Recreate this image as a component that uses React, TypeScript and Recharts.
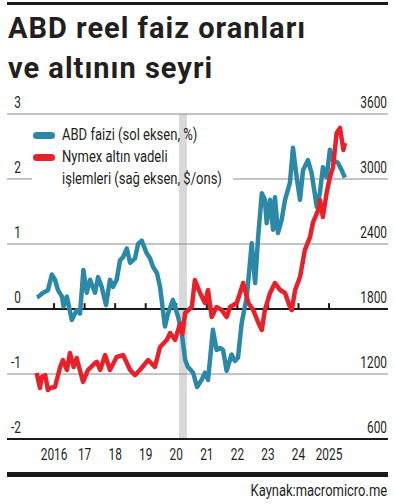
import React from "react";
import {
  ComposedChart,
  Line,
  XAxis,
  YAxis,
  ReferenceLine,
  ReferenceArea,
  Legend,
} from "recharts";

// ABD 10 yıllık reel faiz (sol eksen, %)
const rateDates = [
  2015.44, 2015.49, 2015.64, 2015.8, 2015.93, 2016.03, 2016.13, 2016.26, 2016.31, 2016.42,
  2016.58, 2016.74, 2016.85, 2016.96, 2017.07, 2017.18, 2017.34, 2017.44, 2017.56, 2017.7,
  2017.83, 2017.93, 2018.05, 2018.16, 2018.26, 2018.38, 2018.49, 2018.65, 2018.75, 2018.87,
  2019.03, 2019.14, 2019.24, 2019.37, 2019.47, 2019.63, 2019.73, 2019.89, 2020.06, 2020.18,
  2020.29, 2020.38, 2020.55, 2020.68, 2020.83, 2020.94, 2021.04, 2021.2, 2021.32, 2021.43,
  2021.53, 2021.65, 2021.81, 2021.92, 2022.02, 2022.14, 2022.31, 2022.47, 2022.58, 2022.68,
  2022.8, 2022.9, 2022.96, 2023.07, 2023.17, 2023.23, 2023.33, 2023.45, 2023.56, 2023.72,
  2023.82, 2023.94, 2024.05, 2024.15, 2024.31, 2024.43, 2024.6, 2024.7, 2024.8, 2024.92,
  2025.03, 2025.13, 2025.29, 2025.41, 2025.52,
];
const rateValues = [
  0.18, 0.19, 0.25, 0.29, 0.53, 0.45, 0.29, 0.19, 0.04, 0.19,
  -0.17, -0.02, -0.07, 0.6, 0.25, 0.45, 0.25, 0.49, 0.34, 0.06,
  0.45, 0.34, 0.45, 0.75, 0.8, 0.93, 0.71, 0.78, 1.0, 1.05,
  0.86, 0.78, 0.65, 0.55, 0.34, -0.27, -0.07, 0.14, -0.12, -0.37,
  -0.78, -0.89, -0.98, -1.2, -1.09, -0.98, -1.09, -0.32, -0.63, -0.6,
  -0.63, -0.95, -0.7, -0.8, -0.75, -0.22, 0.19, 1.01, 0.4, 1.11,
  1.78, 1.68, 1.32, 1.68, 1.22, 1.72, 1.17, 1.37, 1.68, 1.94,
  2.48, 2.03, 1.68, 2.14, 2.29, 2.09, 1.57, 1.78, 2.18, 2.03,
  2.45, 2.29, 2.25, 2.14, 2.02,
];

// Nymex altın vadeli işlemleri (sağ eksen, $/ons)
const goldDates = [
  2015.43, 2015.54, 2015.6, 2015.71, 2015.8, 2015.87, 2016.03, 2016.2, 2016.29, 2016.42,
  2016.52, 2016.64, 2016.74, 2016.95, 2017.11, 2017.34, 2017.4, 2017.51, 2017.67, 2017.83,
  2018.05, 2018.26, 2018.49, 2018.65, 2018.81, 2019.08, 2019.3, 2019.47, 2019.69, 2019.8,
  2019.96, 2020.12, 2020.2, 2020.29, 2020.51, 2020.61, 2020.78, 2020.94, 2021.04, 2021.16,
  2021.32, 2021.49, 2021.65, 2021.76, 2021.98, 2022.19, 2022.36, 2022.52, 2022.69, 2022.8,
  2022.9, 2023.07, 2023.23, 2023.4, 2023.56, 2023.72, 2023.78, 2023.89, 2024.05, 2024.21,
  2024.38, 2024.47, 2024.65, 2024.7, 2024.8, 2024.92, 2025.03, 2025.13, 2025.25, 2025.36,
  2025.47, 2025.52,
];
const goldValues = [
  1209, 1071, 1172, 1190, 1052, 1071, 1080, 1265, 1329, 1237,
  1394, 1265, 1348, 1126, 1237, 1301, 1311, 1237, 1375, 1237,
  1357, 1375, 1237, 1190, 1237, 1329, 1265, 1449, 1514, 1578,
  1514, 1660, 1570, 1763, 1818, 2068, 1948, 1855, 1975, 1726,
  1818, 1790, 1726, 1818, 1855, 2040, 1855, 1790, 1671, 1606,
  1790, 1948, 2040, 1975, 1948, 1818, 1790, 1975, 2095, 2345,
  2465, 2594, 2714, 2806, 2649, 2871, 3018, 3110, 3425, 3471,
  3268, 3332,
];

const years = [2016, 2017, 2018, 2019, 2020, 2021, 2022, 2023, 2024, 2025];
const yearLabels = ["2016", "17", "18", "19", "20", "21", "22", "23", "24", "2025"];
const leftTicks = [-2, -1, 0, 1, 2, 3];
const rightTicks = [600, 1200, 1800, 2400, 3000, 3600];
const recession = [2020.09, 2020.35];

const rateData = rateDates.map((t, i) => ({ t, faiz: rateValues[i] }));
const goldData = goldDates.map((t, i) => ({ t, altin: goldValues[i] }));

const X_MIN = 2014.46;
const X_MAX = 2026.93;
const BLUE = "#2b88a6";
const RED = "#e8202a";
const INK = "#231f20";
const FONT = 'Roboto, "DejaVu Sans Condensed", sans-serif';
const NARROW = 0.72;

// condensed label: the library gives the anchor point, we squeeze the glyphs
const Narrow = ({ x, y, anchor, children }: any) => (
  <g transform={`translate(${x},${y})`}>
    <text transform={`scale(${NARROW},1)`} textAnchor={anchor} fontSize={16.5} fill={INK} fontFamily={FONT}>
      {children}
    </text>
  </g>
);

const LeftTick = (props: any) => (
  <Narrow x={21} y={props.y - 6} anchor="end">
    {props.payload.value}
  </Narrow>
);

const RightTick = (props: any) => (
  <Narrow x={387} y={props.y - 6} anchor="end">
    {props.payload.value}
  </Narrow>
);

const YearTick = (props: any) => {
  const i = years.indexOf(props.payload.value);
  return (
    <Narrow x={props.x} y={props.y + 21} anchor="middle">
      {yearLabels[i]}
    </Narrow>
  );
};

const squeeze = (k: number): React.CSSProperties => ({
  display: "inline-block",
  transform: `scaleX(${k})`,
  transformOrigin: "left center",
  whiteSpace: "nowrap",
});

const LegendBox = () => (
  <div style={{ fontFamily: FONT, fontSize: 16.5, color: INK, lineHeight: "22px" }}>
    <div style={{ display: "flex", alignItems: "flex-start" }}>
      <span style={{ flex: "none", width: 22, height: 7, borderRadius: 4, background: BLUE, marginTop: 8, marginRight: 7 }} />
      <span style={squeeze(0.79)}>ABD faizi (sol eksen, %)</span>
    </div>
    <div style={{ display: "flex", alignItems: "flex-start" }}>
      <span style={{ flex: "none", width: 22, height: 7, borderRadius: 4, background: RED, marginTop: 8, marginRight: 7 }} />
      <span style={squeeze(0.79)}>
        Nymex altın vadeli
        <br />
        işlemleri (sağ eksen, $/ons)
      </span>
    </div>
  </div>
);

export default function App() {
  return (
    <div style={{ position: "absolute", left: 0, top: 0, width: 395, height: 504, background: "#fff", fontFamily: FONT }}>
      <div style={{ position: "absolute", left: 7, top: 2, width: 381, height: 3, background: "#1a1a1a" }} />
      <div
        style={{
          position: "absolute",
          left: 8,
          top: 8,
          fontSize: 29,
          fontWeight: 700,
          letterSpacing: 1,
          lineHeight: "40px",
          color: INK,
          whiteSpace: "nowrap",
        }}
      >
        ABD reel faiz oranları
        <br />
        ve altının seyri
      </div>

      <div style={{ position: "absolute", left: 0, top: 0 }}>
        <ComposedChart width={395} height={504} margin={{ top: 114, right: 6, bottom: 35, left: 6 }}>
          <XAxis
            dataKey="t"
            type="number"
            domain={[X_MIN, X_MAX]}
            allowDataOverflow
            ticks={years}
            interval={0}
            height={30}
            tickSize={0}
            tickMargin={0}
            tickLine={false}
            axisLine={{ stroke: "#1a1a1a", strokeWidth: 2 }}
            tick={<YearTick />}
          />
          <YAxis
            yAxisId="left"
            orientation="left"
            domain={[-2, 3]}
            ticks={leftTicks}
            interval={0}
            width={1}
            axisLine={false}
            tickLine={false}
            tick={<LeftTick />}
          />
          <YAxis
            yAxisId="right"
            orientation="right"
            domain={[600, 3600]}
            ticks={rightTicks}
            interval={0}
            width={1}
            axisLine={false}
            tickLine={false}
            tick={<RightTick />}
          />
          <ReferenceArea
            yAxisId="left"
            x1={recession[0]}
            x2={recession[1]}
            y1={-2}
            y2={3}
            fill="#d9d9d9"
            fillOpacity={1}
            stroke="none"
          />
          {[3, 1, -1].map((v) => (
            <ReferenceLine key={v} yAxisId="left" y={v} stroke="#8a8a8a" strokeWidth={1} />
          ))}
          <ReferenceLine
            yAxisId="left"
            segment={[{ x: X_MIN, y: 2 }, { x: 2015.28, y: 2 }]}
            stroke="#8a8a8a"
            strokeWidth={1}
          />
          <ReferenceLine
            yAxisId="left"
            segment={[{ x: 2021.86, y: 2 }, { x: X_MAX, y: 2 }]}
            stroke="#8a8a8a"
            strokeWidth={1}
          />
          <ReferenceLine yAxisId="left" y={0} stroke="#1a1a1a" strokeWidth={2} />
          {years.map((yr) => (
            <ReferenceLine
              key={yr}
              yAxisId="left"
              segment={[{ x: yr, y: 0 }, { x: yr, y: 0.09 }]}
              stroke="#1a1a1a"
              strokeWidth={2}
            />
          ))}
          <Legend
            layout="vertical"
            align="center"
            verticalAlign="middle"
            content={<LegendBox />}
            wrapperStyle={{ left: 33, top: 124, width: 220 }}
          />
          <Line
            yAxisId="left"
            data={rateData}
            dataKey="faiz"
            name="ABD faizi (sol eksen, %)"
            type="linear"
            stroke={BLUE}
            strokeWidth={4.5}
            strokeLinejoin="round"
            dot={false}
            isAnimationActive={false}
          />
          <Line
            yAxisId="right"
            data={goldData}
            dataKey="altin"
            name="Nymex altın vadeli işlemleri (sağ eksen, $/ons)"
            type="linear"
            stroke={RED}
            strokeWidth={4.5}
            strokeLinejoin="round"
            dot={false}
            isAnimationActive={false}
          />
        </ComposedChart>
      </div>

      <div style={{ position: "absolute", left: 7, top: 472, width: 381, height: 5, background: "#1a1a1a" }} />
      <div
        style={{
          position: "absolute",
          right: 8,
          top: 479,
          fontSize: 17.3,
          lineHeight: "22px",
          color: INK,
        }}
      >
        <span style={{ ...squeeze(0.75), transformOrigin: "right center" }}>Kaynak:macromicro.me</span>
      </div>
    </div>
  );
}
